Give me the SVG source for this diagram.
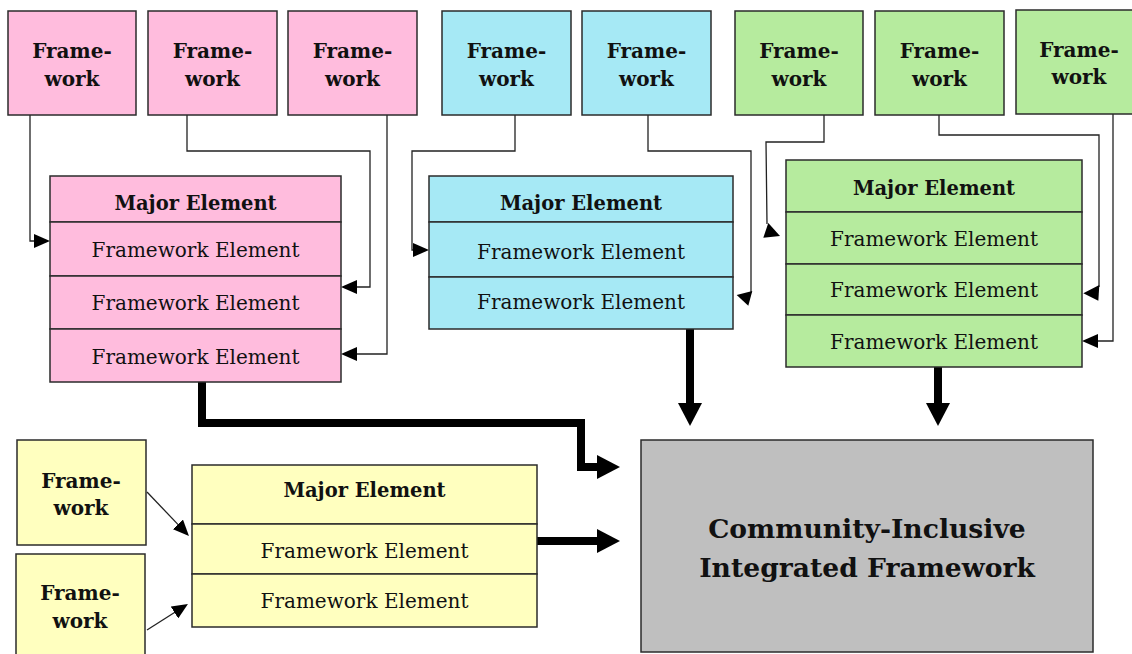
<svg xmlns="http://www.w3.org/2000/svg" width="1132" height="654" viewBox="0 0 1132 654">
  <style>
    .box { stroke: #2b2b2b; stroke-width: 1.5; }
    .pink { fill: #ffbcdd; }
    .blue { fill: #a6e9f5; }
    .green { fill: #b6eb9e; }
    .yellow { fill: #ffffbf; }
    .grey { fill: #bfbfbf; }
    .fw { font-family: "DejaVu Serif", "Liberation Serif", serif; font-weight: bold; font-size: 20px; text-anchor: middle; fill: #111; }
    .maj { font-family: "DejaVu Serif", "Liberation Serif", serif; font-weight: bold; font-size: 19.5px; text-anchor: middle; fill: #111; }
    .el { font-family: "DejaVu Serif", "Liberation Serif", serif; font-size: 20px; text-anchor: middle; fill: #111; }
    .main { font-family: "DejaVu Serif", "Liberation Serif", serif; font-weight: bold; font-size: 26.6px; text-anchor: middle; fill: #111; }
    .thin { fill: none; stroke: #222; stroke-width: 1.3; }
    .thick { fill: none; stroke: #000; stroke-width: 8; }
    .head { fill: #000; }
  </style>
  <defs>
    <marker id="thinHead" viewBox="0 0 16 14" refX="1" refY="7" markerWidth="16" markerHeight="14" markerUnits="userSpaceOnUse" orient="auto">
      <path d="M0,0 L16,7 L0,14 z" fill="#000"/>
    </marker>
    <marker id="thickHead" viewBox="0 0 23 24" refX="2" refY="12" markerWidth="23" markerHeight="24" markerUnits="userSpaceOnUse" orient="auto">
      <path d="M0,0 L23,12 L0,24 z" fill="#000"/>
    </marker>
  </defs>

  <!-- connectors -->
  <g id="connectors">
    <!-- thin feeds into pink element -->
    <path class="thin" d="M30,115 V241 H35" marker-end="url(#thinHead)"/>
    <path class="thin" d="M187,115 V151 H370 V287 H356" marker-end="url(#thinHead)"/>
    <path class="thin" d="M387,115 V354 H356" marker-end="url(#thinHead)"/>
    <!-- thin feeds into blue element -->
    <path class="thin" d="M515,115 V151 H412 V250 H414" marker-end="url(#thinHead)"/>
    <path class="thin" d="M648,115 V151 H751 V293"/>
    <polygon class="head" points="752.3,291 736.7,295 748.3,305.7"/>
    <!-- thin feeds into green element -->
    <path class="thin" d="M824,115 V142 H766 L767,224"/>
    <polygon class="head" points="768.3,223 763.3,237.7 780,236"/>
    <path class="thin" d="M939,115 V135 H1099 V287"/>
    <polygon class="head" points="1099.3,285 1083.3,293.3 1098.3,300.7"/>
    <path class="thin" d="M1113,114 V341 H1097" marker-end="url(#thinHead)"/>
    <!-- thin feeds into yellow element -->
    <path class="thin" d="M147,492 L178.6,525.1" marker-end="url(#thinHead)"/>
    <path class="thin" d="M147,630 L175.3,612" marker-end="url(#thinHead)"/>
    <!-- thick flows into the integrated framework -->
    <path class="thick" d="M202,382 V423 H581 V467 H599" marker-end="url(#thickHead)"/>
    <path class="thick" d="M690,329 V405" marker-end="url(#thickHead)"/>
    <path class="thick" d="M938,367 V405" marker-end="url(#thickHead)"/>
    <path class="thick" d="M537,541 H599" marker-end="url(#thickHead)"/>
  </g>

  <!-- pink frameworks -->
  <g id="fw-pink-1"><rect class="box pink" x="8" y="11" width="128" height="104"/><text class="fw" x="72" y="58">Frame-</text><text class="fw" x="72" y="86">work</text></g>
  <g id="fw-pink-2"><rect class="box pink" x="148" y="11" width="129" height="104"/><text class="fw" x="212.5" y="58">Frame-</text><text class="fw" x="212.5" y="86">work</text></g>
  <g id="fw-pink-3"><rect class="box pink" x="288" y="11" width="129" height="104"/><text class="fw" x="352.5" y="58">Frame-</text><text class="fw" x="352.5" y="86">work</text></g>
  <!-- blue frameworks -->
  <g id="fw-blue-1"><rect class="box blue" x="442" y="11" width="129" height="104"/><text class="fw" x="506.5" y="58">Frame-</text><text class="fw" x="506.5" y="86">work</text></g>
  <g id="fw-blue-2"><rect class="box blue" x="582" y="11" width="129" height="104"/><text class="fw" x="646.5" y="58">Frame-</text><text class="fw" x="646.5" y="86">work</text></g>
  <!-- green frameworks -->
  <g id="fw-green-1"><rect class="box green" x="735" y="11" width="128" height="104"/><text class="fw" x="799" y="58">Frame-</text><text class="fw" x="799" y="86">work</text></g>
  <g id="fw-green-2"><rect class="box green" x="875" y="11" width="129" height="104"/><text class="fw" x="939.5" y="58">Frame-</text><text class="fw" x="939.5" y="86">work</text></g>
  <g id="fw-green-3"><rect class="box green" x="1016" y="10" width="129" height="104"/><text class="fw" x="1079" y="57">Frame-</text><text class="fw" x="1079" y="84">work</text></g>
  <!-- yellow frameworks -->
  <g id="fw-yellow-1"><rect class="box yellow" x="17" y="440" width="129" height="105"/><text class="fw" x="81" y="488">Frame-</text><text class="fw" x="81" y="515">work</text></g>
  <g id="fw-yellow-2"><rect class="box yellow" x="16" y="554" width="129" height="110"/><text class="fw" x="80" y="600">Frame-</text><text class="fw" x="80" y="628">work</text></g>

  <!-- pink major element -->
  <g id="major-pink">
    <rect class="box pink" x="50" y="176" width="291" height="46"/>
    <rect class="box pink" x="50" y="222" width="291" height="54"/>
    <rect class="box pink" x="50" y="276" width="291" height="53"/>
    <rect class="box pink" x="50" y="329" width="291" height="53"/>
    <text class="maj" x="195.5" y="210">Major Element</text>
    <text class="el" x="195.5" y="257">Framework Element</text>
    <text class="el" x="195.5" y="310">Framework Element</text>
    <text class="el" x="195.5" y="364">Framework Element</text>
  </g>
  <!-- blue major element -->
  <g id="major-blue">
    <rect class="box blue" x="429" y="176" width="304" height="46"/>
    <rect class="box blue" x="429" y="222" width="304" height="55"/>
    <rect class="box blue" x="429" y="277" width="304" height="52"/>
    <text class="maj" x="581" y="210">Major Element</text>
    <text class="el" x="581" y="259">Framework Element</text>
    <text class="el" x="581" y="309">Framework Element</text>
  </g>
  <!-- green major element -->
  <g id="major-green">
    <rect class="box green" x="786" y="160" width="296" height="52"/>
    <rect class="box green" x="786" y="212" width="296" height="52"/>
    <rect class="box green" x="786" y="264" width="296" height="51"/>
    <rect class="box green" x="786" y="315" width="296" height="52"/>
    <text class="maj" x="934" y="195">Major Element</text>
    <text class="el" x="934" y="246">Framework Element</text>
    <text class="el" x="934" y="297">Framework Element</text>
    <text class="el" x="934" y="349">Framework Element</text>
  </g>
  <!-- yellow major element -->
  <g id="major-yellow">
    <rect class="box yellow" x="192" y="465" width="345" height="59"/>
    <rect class="box yellow" x="192" y="524" width="345" height="50"/>
    <rect class="box yellow" x="192" y="574" width="345" height="53"/>
    <text class="maj" x="364.5" y="497">Major Element</text>
    <text class="el" x="364.5" y="558">Framework Element</text>
    <text class="el" x="364.5" y="608">Framework Element</text>
  </g>

  <!-- integrated framework -->
  <g id="integrated">
    <rect class="box grey" x="641" y="440" width="452" height="212"/>
    <text class="main" x="867" y="538">Community-Inclusive</text>
    <text class="main" x="867" y="577">Integrated Framework</text>
  </g>
</svg>
